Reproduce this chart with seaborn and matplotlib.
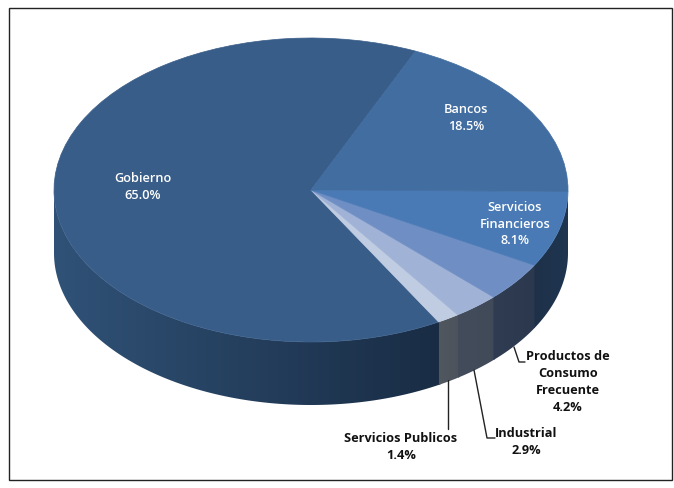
"""Sector breakdown drawn as a tilted pie with a shaded rim."""

import matplotlib

matplotlib.use("Agg")

import matplotlib.pyplot as plt
import numpy as np
import seaborn as sns
from matplotlib.colors import to_rgb
from matplotlib.patches import Polygon, Rectangle

sectors = ["Gobierno", "Servicios Publicos", "Industrial", "Productos de\nConsumo\nFrecuente",
           "Servicios\nFinancieros", "Bancos"]
shares = [65.0, 1.4, 2.9, 4.2, 8.1, 18.5]

top_colors = ["#395d89", "#c0cce1", "#a0b2d6", "#6f8fc4", "#4a7ab5", "#416da0"]
rim_left = ["#305277", "#50575f", "#434c5b", "#2f3c52", "#1e3149", "#1e3149"]
rim_right = ["#192c44", "#4c535c", "#414a59", "#2b384d", "#1f3550", "#1f3550"]

# label centres and leader lines, in pixels of the 674x488 figure
label_pos = [(143, 187), (401, 447), (526, 442), (568, 382), (515, 224), (466, 118)]
leaders = [
    [(447.5, 380), (447.5, 429)],
    [(474, 370), (487, 438), (495, 438)],
    [(514, 347), (519, 362), (525, 362)],
]

W, H = 674, 488
CX, CY, RX, RY = 311, 190, 257, 152
DEPTH = 63 / RY

sns.set_theme(style="white")
plt.rcParams["font.family"] = ["Open Sans", "DejaVu Sans"]

fig = plt.figure(figsize=(W / 100, H / 100), dpi=100)

# pie axes: the unit circle lands on the ellipse of the top face
ax = fig.add_axes([(CX - RX) / W, 1 - (CY + RY) / H, 2 * RX / W, 2 * RY / H])
wedges, _ = ax.pie(shares, colors=sns.color_palette(top_colors), startangle=66, radius=1)
for wedge in wedges:
    wedge.set_zorder(3)
    wedge.set_edgecolor(wedge.get_facecolor())
    wedge.set_linewidth(0.5)

# rim: a horizontal gradient per slice, clipped to the slice's side wall
edges = 66 + np.cumsum([0] + shares) * 360 / sum(shares)
for i in range(len(shares)):
    start, end = max(edges[i], 180), min(edges[i + 1], 360)
    if end <= start:
        continue
    # slight overlap with the next slice so no hairline shows between them
    ang = np.radians(np.linspace(start, min(end + 0.5, 360), 200))
    xs, ys = np.cos(ang), np.sin(ang)
    outline = np.vstack([np.column_stack([xs, ys]),
                         np.column_stack([xs[::-1], ys[::-1] - DEPTH])])
    t = np.linspace(0, 1, 256)[:, None]
    c0, c1 = np.array(to_rgb(rim_left[i])), np.array(to_rgb(rim_right[i]))
    ramp = c0 + t * (c1 - c0)
    img = ax.imshow(ramp[None, :, :], extent=(xs[0], xs[-1], outline[:, 1].min(), outline[:, 1].max()),
                    aspect="auto", zorder=2 + i * 0.01, interpolation="bilinear")
    img.set_clip_path(Polygon(outline, closed=True, transform=ax.transData))
    img.set_clip_box(fig.bbox)

ax.set_aspect("auto")
ax.set_xlim(-1, 1)
ax.set_ylim(-1, 1)
ax.axis("off")
for wedge in wedges:
    wedge.set_clip_on(False)

# overlay in pixel coordinates for frame, leaders and labels
over = fig.add_axes([0, 0, 1, 1], facecolor="none")
over.set_xlim(0, W)
over.set_ylim(H, 0)
over.axis("off")
over.add_patch(Rectangle((9, 8), 663, 472, fill=False, edgecolor="#222222", linewidth=1))

for pts in leaders:
    px, py = zip(*pts)
    over.plot(px, py, color="#222222", linewidth=1)

for i, (name, share) in enumerate(zip(sectors, shares)):
    inside = i in (0, 4, 5)
    over.text(label_pos[i][0], label_pos[i][1], f"{name}\n{share:.1f}%", ha="center", va="center",
              fontsize=9.2, fontweight="bold" if not inside else "semibold",
              color="white" if inside else "#111111", linespacing=1.38)

fig.savefig("out.png", dpi=100, facecolor="white")
